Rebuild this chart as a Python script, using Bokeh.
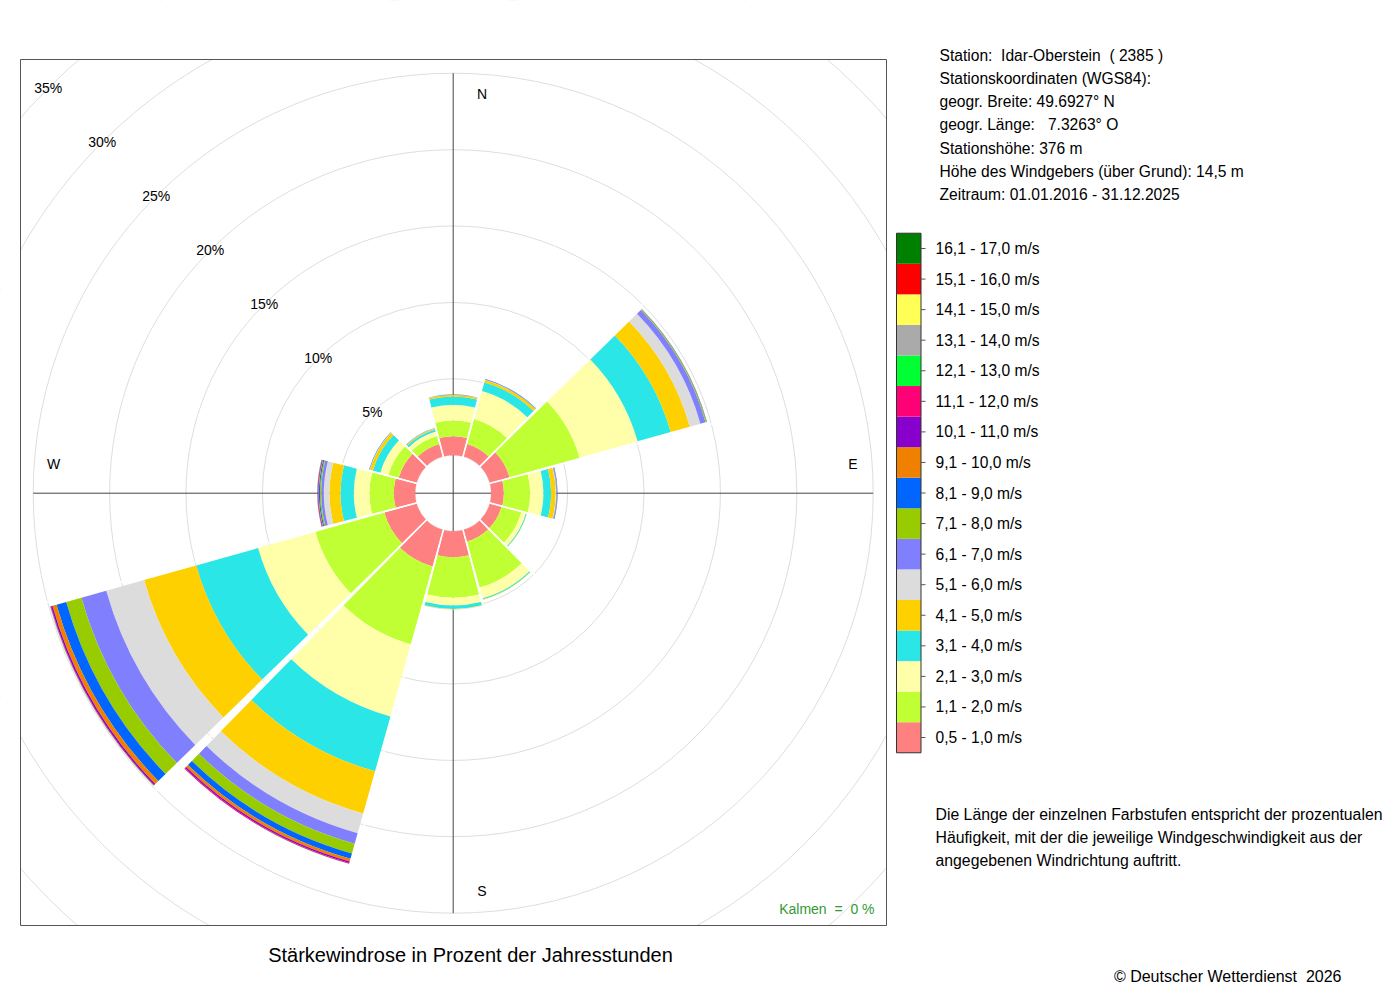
import math
from bokeh.plotting import figure
from bokeh.models import Range1d, ColumnDataSource
from bokeh.core.properties import value
from bokeh.embed import file_html
from bokeh.resources import INLINE

# ---------------- data ----------------
directions = ["N", "NNO", "ONO", "O", "OSO", "SSO", "S", "SSW", "WSW", "W", "WNW", "NNW"]
dir_angles = [0, 30, 60, 90, 120, 150, 180, 210, 240, 270, 300, 330]

class_labels = ["0,5 - 1,0 m/s", "1,1 - 2,0 m/s", "2,1 - 3,0 m/s", "3,1 - 4,0 m/s",
                "4,1 - 5,0 m/s", "5,1 - 6,0 m/s", "6,1 - 7,0 m/s", "7,1 - 8,0 m/s",
                "8,1 - 9,0 m/s", "9,1 - 10,0 m/s", "10,1 - 11,0 m/s", "11,1 - 12,0 m/s",
                "12,1 - 13,0 m/s", "13,1 - 14,0 m/s", "14,1 - 15,0 m/s", "15,1 - 16,0 m/s",
                "16,1 - 17,0 m/s"]
class_colors = ["#FF8080", "#BFFF33", "#FFFFAA", "#2AE6E6", "#FFD000", "#DCDCDC",
                "#8080FF", "#99CC00", "#0066FF", "#F08000", "#8800CC", "#FF0077",
                "#00FF33", "#AAAAAA", "#FFFF55", "#FF0000", "#008000"]

# percent of hours per direction (order as in `directions`)
v_0_5_1_0   = [1.24, 0.85, 1.35, 0.83, 0.80, 0.80, 1.70, 2.50, 2.20, 1.40, 1.22, 0.85]
v_1_1_2_0   = [1.03, 1.71, 4.75, 1.72, 1.35, 3.13, 2.66, 5.29, 4.68, 1.59, 0.70, 0.55]
v_2_1_3_0   = [1.03, 1.90, 3.95, 0.87, 0.30, 0.73, 0.50, 4.90, 3.90, 1.03, 0.55, 0.30]
v_3_1_4_0   = [0.54, 0.58, 2.25, 0.50, 0.06, 0.07, 0.22, 3.73, 4.20, 0.87, 0.50, 0.15]
v_4_1_5_0   = [0.11, 0.17, 1.30, 0.30, 0.01, 0.02, 0.04, 2.87, 3.55, 0.72, 0.20, 0.06]
v_5_1_6_0   = [0.01, 0.01, 0.72, 0.04, 0.00, 0.00, 0.01, 1.34, 2.57, 0.37, 0.02, 0.01]
v_6_1_7_0   = [0.01, 0.02, 0.35, 0.04, 0.00, 0.00, 0.00, 0.71, 1.69, 0.17, 0.01, 0.01]
v_7_1_8_0   = [0.00, 0.01, 0.06, 0.01, 0.00, 0.00, 0.00, 0.66, 1.03, 0.08, 0.01, 0.00]
v_8_1_9_0   = [0.01, 0.02, 0.03, 0.03, 0.00, 0.00, 0.00, 0.37, 0.66, 0.07, 0.02, 0.01]
v_9_1_10_0  = [0.00, 0.00, 0.01, 0.01, 0.00, 0.00, 0.00, 0.18, 0.28, 0.04, 0.00, 0.00]
v_10_1_11_0 = [0.00, 0.00, 0.00, 0.00, 0.00, 0.00, 0.00, 0.10, 0.10, 0.04, 0.00, 0.00]
v_11_1_12_0 = [0.00, 0.00, 0.00, 0.00, 0.00, 0.00, 0.00, 0.05, 0.04, 0.02, 0.00, 0.00]
v_12_1_13_0 = [0.00, 0.00, 0.00, 0.00, 0.00, 0.00, 0.00, 0.01, 0.02, 0.01, 0.00, 0.00]
v_13_1_14_0 = [0.00, 0.00, 0.00, 0.00, 0.00, 0.00, 0.00, 0.00, 0.01, 0.00, 0.00, 0.00]
v_14_1_15_0 = [0.00, 0.00, 0.00, 0.00, 0.00, 0.00, 0.00, 0.00, 0.00, 0.00, 0.00, 0.00]
v_15_1_16_0 = [0.00, 0.00, 0.00, 0.00, 0.00, 0.00, 0.00, 0.00, 0.00, 0.00, 0.00, 0.00]
v_16_1_17_0 = [0.00, 0.00, 0.00, 0.00, 0.00, 0.00, 0.00, 0.00, 0.00, 0.00, 0.00, 0.00]

series = [v_0_5_1_0, v_1_1_2_0, v_2_1_3_0, v_3_1_4_0, v_4_1_5_0, v_5_1_6_0, v_6_1_7_0,
          v_7_1_8_0, v_8_1_9_0, v_9_1_10_0, v_10_1_11_0, v_11_1_12_0, v_12_1_13_0,
          v_13_1_14_0, v_14_1_15_0, v_15_1_16_0, v_16_1_17_0]

grid_pcts = [5, 10, 15, 20, 25, 30, 35]
grid_labels = ["5%", "10%", "15%", "20%", "25%", "30%", "35%"]
compass_labels = ["N", "E", "S", "W"]
calm_text = "Kalmen\u00a0 =\u00a0 0 %"

station_lines = ["Station:\u00a0 Idar-Oberstein\u00a0 ( 2385 )",
                 "Stationskoordinaten (WGS84):",
                 "geogr. Breite: 49.6927° N",
                 "geogr. Länge:\u00a0\u00a0 7.3263° O",
                 "Stationshöhe: 376 m",
                 "Höhe des Windgebers (über Grund): 14,5 m",
                 "Zeitraum: 01.01.2016 - 31.12.2025"]
note_lines = ["Die Länge der einzelnen Farbstufen entspricht der prozentualen",
              "Häufigkeit, mit der die jeweilige Windgeschwindigkeit aus der",
              "angegebenen Windrichtung auftritt."]
title_text = "Stärkewindrose in Prozent der Jahresstunden"
copyright_text = "© Deutscher Wetterdienst\u00a0 2026"

# ---------------- layout helpers (page pixels -> data units of percent) ----------------
W, H = 1396, 992
K = 15.28          # pixels per percent
CX, CY = 452.7, 492.7
HOLE = 38.0 / K    # empty centre, in percent units
FONT = value("Liberation Sans")
OX, OY = 0, 0      # page position of the canvas origin


def X(px):
    return (px - CX) / K


def Y(py):
    return (CY - py) / K


p = figure(width=W, height=H, output_backend="svg", toolbar_location=None,
           x_range=Range1d(X(OX), X(OX + W)), y_range=Range1d(Y(OY + H), Y(OY)),
           x_axis_location=None, y_axis_location=None, min_border=0,
           background_fill_color="white", border_fill_color="white")
p.grid.visible = False
p.outline_line_color = None

# grid circles
p.circle(x=[0] * len(grid_pcts), y=[0] * len(grid_pcts),
         radius=[HOLE + g for g in grid_pcts], fill_color=None,
         line_color="#DEDEDE", line_width=1)
p.circle(x=[0], y=[0], radius=[HOLE], fill_color=None, line_color="#E8E8E8", line_width=1)

# axis cross
AX = HOLE + 25
p.segment(x0=[-AX, 0], y0=[0, -AX], x1=[AX, 0], y1=[0, AX], line_color="#444444", line_width=1)

# petals
half = math.radians(14.3)
xs, ys, inn, out, st, en, col = [], [], [], [], [], [], []
totals = []
for i, ang in enumerate(dir_angles):
    cum = 0.0
    a = math.radians(90 - ang)
    for k, ser in enumerate(series):
        v = ser[i]
        if v <= 0:
            continue
        xs.append(0); ys.append(0)
        inn.append(HOLE + cum); out.append(HOLE + cum + v)
        st.append(a - half); en.append(a + half)
        col.append(class_colors[k])
        cum += v
    totals.append(cum)
src = ColumnDataSource(dict(x=xs, y=ys, inner=inn, outer=out, start=st, end=en, color=col))
p.annular_wedge(x="x", y="y", inner_radius="inner", outer_radius="outer",
                start_angle="start", end_angle="end", fill_color="color",
                line_color=None, source=src)

# thin white separators between sectors
sx0, sy0, sx1, sy1 = [], [], [], []
n = len(dir_angles)
for i, ang in enumerate(dir_angles):
    b = math.radians(ang + 15)
    R = HOLE + max(totals[i], totals[(i + 1) % n]) + 0.3
    r0 = HOLE - 0.05
    sx0.append(r0 * math.sin(b)); sy0.append(r0 * math.cos(b))
    sx1.append(R * math.sin(b)); sy1.append(R * math.cos(b))
p.segment(x0=sx0, y0=sy0, x1=sx1, y1=sy1, line_color="white", line_width=1.6)

# white cover outside the rose frame (clips the large grid circles)
FL, FR, FT, FB = 20, 886, 59, 925
p.quad(left=[X(-10), X(FR + 0.5), X(-10), X(-10)],
       right=[X(FL - 0.5), X(1410), X(1410), X(1410)],
       top=[Y(-10), Y(-10), Y(-10), Y(FB + 0.5)],
       bottom=[Y(1010), Y(1010), Y(FT - 0.5), Y(1010)],
       fill_color="white", line_color=None)
p.quad(left=[X(FL)], right=[X(FR)], top=[Y(FT)], bottom=[Y(FB)],
       fill_color=None, line_color="#555555", line_width=1)

# percent labels along the NW diagonal
d45 = math.sqrt(0.5)
p.text(x=[-(HOLE + g) * d45 for g in grid_pcts], y=[(HOLE + g) * d45 for g in grid_pcts],
       text=grid_labels, text_font=FONT, text_font_size="14px",
       text_align="center", text_baseline="middle", text_color="black")

# compass labels
LR = 399.7 / K
OFF = 28.8 / K
p.text(x=[OFF, LR, OFF, -LR], y=[LR, OFF + 0.05, -LR + 0.1, OFF + 0.05], text=compass_labels,
       text_font=FONT, text_font_size="14px", text_align="center",
       text_baseline="middle", text_color="black")

# calms
p.text(x=[X(874)], y=[Y(908)], text=[calm_text], text_font=FONT, text_font_size="14px",
       text_align="right", text_baseline="middle", text_color="#339933")

# station info
p.text(x=[X(939)] * len(station_lines), y=[Y(55 + 23.15 * i) for i in range(len(station_lines))],
       text=station_lines, text_font=FONT, text_font_size="15.6px",
       text_align="left", text_baseline="middle", text_color="black")

# legend colour bar
nc = len(class_labels)
step = 30.5625
centers = [737 - step * k for k in range(nc)]
p.quad(left=[X(896)] * nc, right=[X(920.5)] * nc,
       top=[Y(c - step / 2) for c in centers], bottom=[Y(c + step / 2) for c in centers],
       fill_color=class_colors, line_color=None)
p.quad(left=[X(896)], right=[X(920.5)], top=[Y(centers[-1] - step / 2)],
       bottom=[Y(centers[0] + step / 2)], fill_color=None, line_color="#333333", line_width=1)
p.segment(x0=[X(920.5)] * nc, y0=[Y(c) for c in centers], x1=[X(925)] * nc,
          y1=[Y(c) for c in centers], line_color="#555555", line_width=1)
p.text(x=[X(935)] * nc, y=[Y(c) for c in centers], text=class_labels, text_font=FONT,
       text_font_size="15.6px", text_align="left", text_baseline="middle", text_color="black")

# explanatory note
p.text(x=[X(935)] * len(note_lines), y=[Y(814 + 23 * i) for i in range(len(note_lines))],
       text=note_lines, text_font=FONT, text_font_size="15.8px",
       text_align="left", text_baseline="middle", text_color="black")

# title and copyright
p.text(x=[X(470)], y=[Y(954)], text=[title_text], text_font=FONT, text_font_size="20px",
       text_align="center", text_baseline="middle", text_color="black")
p.text(x=[X(1341)], y=[Y(976)], text=[copyright_text], text_font=FONT, text_font_size="16px",
       text_align="right", text_baseline="middle", text_color="black")

open("out.html", "w").write(file_html(p, INLINE))
